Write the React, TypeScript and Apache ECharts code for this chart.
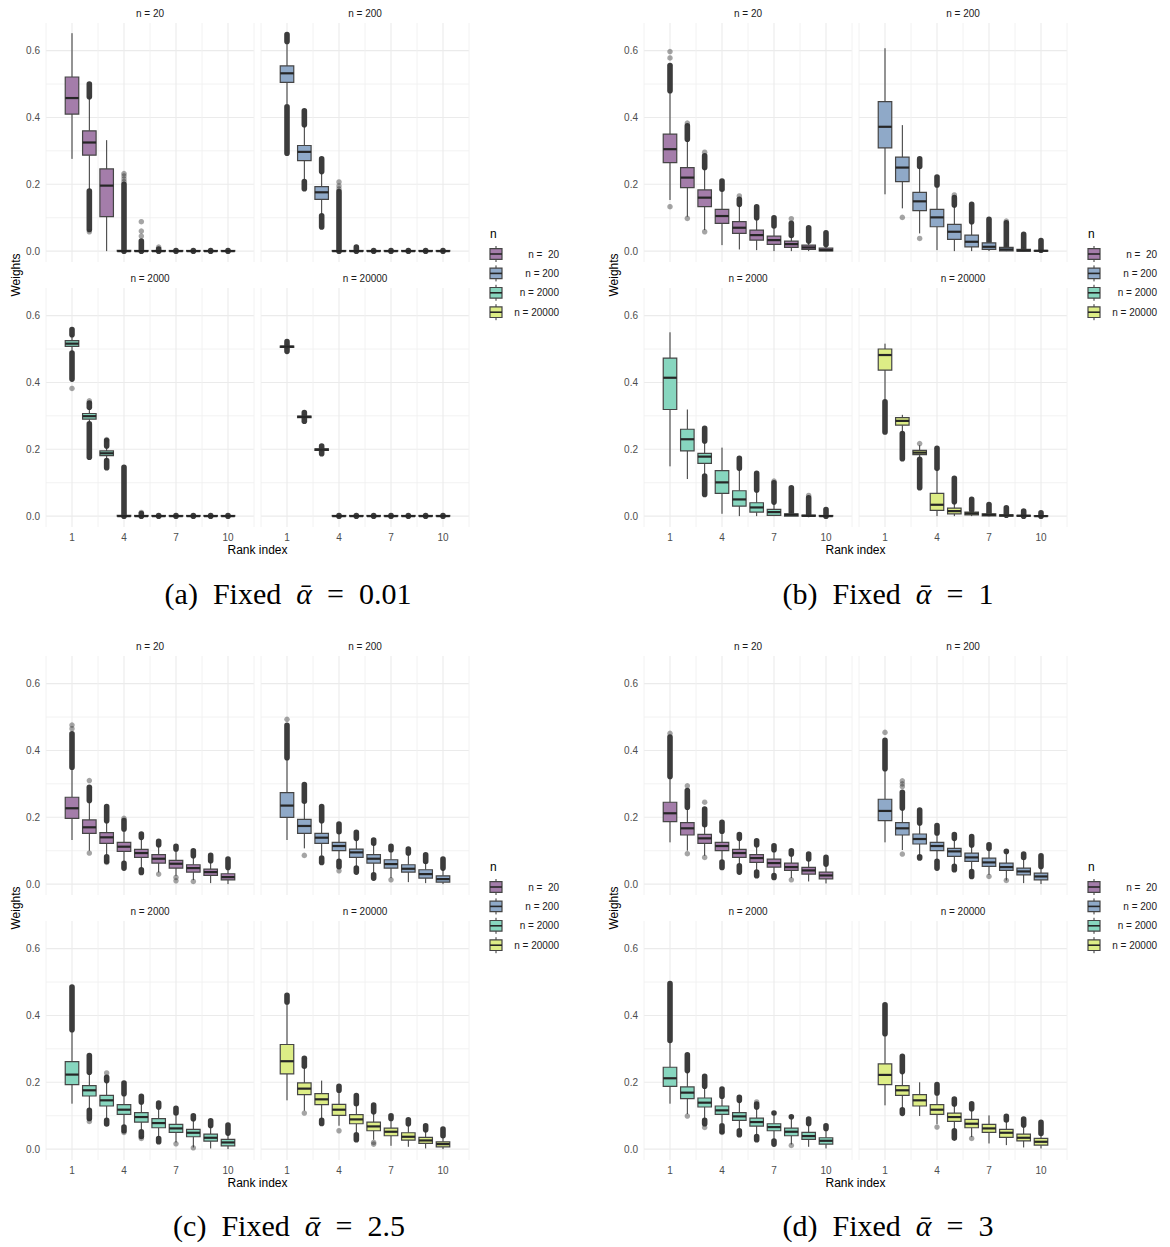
import React, { useEffect, useRef } from 'react';
import * as echarts from 'echarts';

const FONT = "'Liberation Sans', Arial, Helvetica, sans-serif";
const SERIF = "'Liberation Serif', 'DejaVu Serif', serif";

const RANKS = [1, 2, 3, 4, 5, 6, 7, 8, 9, 10];
const FACET_TITLES = ['n = 20', 'n = 200', 'n = 2000', 'n = 20000'];
const LEGEND_LABELS = ['n =  20', 'n = 200', 'n = 2000', 'n = 20000'];
const FILL_COLORS = ['#A47DAA', '#8FA9C8', '#87D6BF', '#DDED86'];
const CAPTION_PREFIX = ['(a)\u2002Fixed\u2002', '(b)\u2002Fixed\u2002', '(c)\u2002Fixed\u2002', '(d)\u2002Fixed\u2002'];
const CAPTION_VALUE = ['0.01', '1', '2.5', '3'];
const Y_MAJOR = [0, 0.2, 0.4, 0.6];
const Y_MINOR = [0.1, 0.3, 0.5];
const X_MAJOR = [1, 4, 7, 10];
const X_MINOR = [-0.5, 2.5, 5.5, 8.5, 11.5];
const Y_MIN = -0.0325;
const Y_MAX = 0.6825;
const X_MIN = -0.5;
const X_MAX = 11.5;

// ---------- (a) alpha = 0.01 : [lower whisker, Q1, median, Q3, upper whisker] ----------
const A_N20_BOX = [
  [0.276, 0.410, 0.458, 0.521, 0.652],
  [0.185, 0.287, 0.325, 0.360, 0.462],
  [0.000, 0.103, 0.196, 0.246, 0.332],
  [0, 0, 0, 0.002, 0.002],
  [0, 0, 0, 0.002, 0.002],
  [0, 0, 0, 0.002, 0.002],
  [0, 0, 0, 0.002, 0.002],
  [0, 0, 0, 0.002, 0.002],
  [0, 0, 0, 0.002, 0.002],
  [0, 0, 0, 0.002, 0.002],
];
const A_N20_DENSE = [[2, 0.462, 0.500], [2, 0.065, 0.180], [4, 0, 0.200], [5, 0, 0.030], [6, 0, 0.006], [7, 0, 0.002], [8, 0, 0.002], [9, 0, 0.002], [10, 0, 0.002]];
const A_N20_PTS = [[2, 0.058], [4, 0.208], [4, 0.216], [4, 0.225], [4, 0.232], [5, 0.045], [5, 0.060], [5, 0.088], [6, 0.012]];

const A_N200_BOX = [
  [0.440, 0.505, 0.532, 0.554, 0.620],
  [0.215, 0.271, 0.297, 0.316, 0.375],
  [0.110, 0.155, 0.176, 0.193, 0.236],
  [0, 0, 0, 0.002, 0.002],
  [0, 0, 0, 0.002, 0.002],
  [0, 0, 0, 0.002, 0.002],
  [0, 0, 0, 0.002, 0.002],
  [0, 0, 0, 0.002, 0.002],
  [0, 0, 0, 0.002, 0.002],
  [0, 0, 0, 0.002, 0.002],
];
const A_N200_DENSE = [[1, 0.627, 0.648], [1, 0.293, 0.432], [2, 0.378, 0.420], [2, 0.187, 0.208], [3, 0.238, 0.276], [3, 0.072, 0.106], [4, 0, 0.178], [5, 0, 0.012], [6, 0, 0.002], [7, 0, 0.002], [8, 0, 0.002], [9, 0, 0.002], [10, 0, 0.002]];
const A_N200_PTS = [[4, 0.186], [4, 0.195], [4, 0.207]];

const A_N2000_BOX = [
  [0.490, 0.508, 0.516, 0.525, 0.542],
  [0.278, 0.290, 0.299, 0.307, 0.322],
  [0.168, 0.181, 0.188, 0.195, 0.208],
  [0, 0, 0, 0.002, 0.002],
  [0, 0, 0, 0.002, 0.002],
  [0, 0, 0, 0.002, 0.002],
  [0, 0, 0, 0.002, 0.002],
  [0, 0, 0, 0.002, 0.002],
  [0, 0, 0, 0.002, 0.002],
  [0, 0, 0, 0.002, 0.002],
];
const A_N2000_DENSE = [[1, 0.543, 0.558], [1, 0.410, 0.488], [2, 0.326, 0.338], [2, 0.176, 0.276], [3, 0.210, 0.226], [3, 0.145, 0.166], [4, 0, 0.146], [5, 0, 0.008], [6, 0, 0.002], [7, 0, 0.002], [8, 0, 0.002], [9, 0, 0.002], [10, 0, 0.002]];
const A_N2000_PTS = [[1, 0.382], [2, 0.345], [3, 0.229], [5, 0.011]];

const A_N20000_BOX = [
  [0.500, 0.505, 0.507, 0.509, 0.514],
  [0.290, 0.295, 0.297, 0.299, 0.304],
  [0.193, 0.197, 0.199, 0.201, 0.205],
  [0, 0, 0, 0.002, 0.002],
  [0, 0, 0, 0.002, 0.002],
  [0, 0, 0, 0.002, 0.002],
  [0, 0, 0, 0.002, 0.002],
  [0, 0, 0, 0.002, 0.002],
  [0, 0, 0, 0.002, 0.002],
  [0, 0, 0, 0.002, 0.002],
];
const A_N20000_DENSE = [[1, 0.493, 0.522], [2, 0.284, 0.310], [3, 0.187, 0.210], [4, 0, 0.002], [5, 0, 0.002], [6, 0, 0.002], [7, 0, 0.002], [8, 0, 0.002], [9, 0, 0.002], [10, 0, 0.002]];
const A_N20000_PTS: number[][] = [];

// ---------- (b) alpha = 1 ----------
const B_N20_BOX = [
  [0.153, 0.265, 0.305, 0.350, 0.477],
  [0.103, 0.190, 0.220, 0.250, 0.332],
  [0.063, 0.133, 0.160, 0.183, 0.248],
  [0.018, 0.083, 0.105, 0.125, 0.183],
  [0.005, 0.053, 0.070, 0.088, 0.138],
  [0.003, 0.033, 0.048, 0.063, 0.098],
  [0.000, 0.020, 0.033, 0.045, 0.073],
  [0.000, 0.011, 0.021, 0.030, 0.045],
  [0.000, 0.005, 0.011, 0.018, 0.028],
  [0.000, 0.001, 0.003, 0.009, 0.018],
];
const B_N20_DENSE = [[1, 0.480, 0.555], [2, 0.335, 0.375], [3, 0.250, 0.285], [4, 0.185, 0.210], [5, 0.140, 0.155], [6, 0.100, 0.133], [7, 0.075, 0.100], [8, 0.047, 0.083], [9, 0.030, 0.070], [10, 0.020, 0.055]];
const B_N20_PTS = [[1, 0.133], [1, 0.578], [1, 0.597], [2, 0.098], [2, 0.383], [3, 0.058], [3, 0.296], [5, 0.165], [8, 0.097]];

const B_N200_BOX = [
  [0.170, 0.309, 0.372, 0.447, 0.607],
  [0.128, 0.208, 0.250, 0.281, 0.377],
  [0.053, 0.121, 0.149, 0.176, 0.250],
  [0.003, 0.073, 0.101, 0.125, 0.195],
  [0.000, 0.035, 0.058, 0.080, 0.135],
  [0.000, 0.013, 0.028, 0.048, 0.085],
  [0.000, 0.005, 0.013, 0.025, 0.055],
  [0.000, 0.001, 0.005, 0.011, 0.025],
  [0.000, 0.000, 0.002, 0.005, 0.012],
  [0.000, 0.000, 0.001, 0.002, 0.004],
];
const B_N200_DENSE = [[3, 0.253, 0.276], [4, 0.198, 0.222], [5, 0.138, 0.160], [6, 0.088, 0.140], [7, 0.028, 0.095], [8, 0.013, 0.085], [9, 0.008, 0.050], [10, 0.003, 0.032]];
const B_N200_PTS = [[2, 0.101], [3, 0.038], [5, 0.168], [8, 0.090]];

const B_N2000_BOX = [
  [0.149, 0.319, 0.414, 0.473, 0.550],
  [0.111, 0.195, 0.230, 0.260, 0.319],
  [0.124, 0.158, 0.178, 0.188, 0.222],
  [0.007, 0.068, 0.101, 0.136, 0.205],
  [0.000, 0.030, 0.050, 0.076, 0.140],
  [0.000, 0.012, 0.026, 0.040, 0.075],
  [0.000, 0.002, 0.012, 0.020, 0.040],
  [0.000, 0.000, 0.004, 0.007, 0.017],
  [0.000, 0.000, 0.001, 0.003, 0.007],
  [0.000, 0.000, 0.000, 0.002, 0.004],
];
const B_N2000_DENSE = [[3, 0.225, 0.263], [3, 0.065, 0.120], [5, 0.143, 0.173], [6, 0.078, 0.128], [7, 0.042, 0.100], [8, 0.010, 0.085], [9, 0.005, 0.055], [10, 0, 0.020]];
const B_N2000_PTS = [[7, 0.105], [9, 0.062]];

const B_N20000_BOX = [
  [0.345, 0.437, 0.482, 0.500, 0.516],
  [0.250, 0.272, 0.285, 0.295, 0.303],
  [0.173, 0.184, 0.190, 0.197, 0.212],
  [0.000, 0.017, 0.034, 0.068, 0.140],
  [0.000, 0.007, 0.015, 0.024, 0.040],
  [0.000, 0.004, 0.008, 0.012, 0.016],
  [0.000, 0.001, 0.004, 0.007, 0.009],
  [0.000, 0.000, 0.002, 0.004, 0.006],
  [0.000, 0.000, 0.001, 0.002, 0.003],
  [0.000, 0.000, 0.000, 0.001, 0.002],
];
const B_N20000_DENSE = [[1, 0.252, 0.342], [2, 0.172, 0.247], [3, 0.085, 0.170], [4, 0.143, 0.203], [5, 0.043, 0.113], [6, 0.018, 0.050], [7, 0.008, 0.035], [8, 0.003, 0.025], [9, 0, 0.015], [10, 0, 0.010]];
const B_N20000_PTS = [[3, 0.217]];

// ---------- (c) alpha = 2.5 ----------
const C_N20_BOX = [
  [0.132, 0.197, 0.227, 0.260, 0.345],
  [0.100, 0.152, 0.170, 0.192, 0.245],
  [0.088, 0.122, 0.140, 0.154, 0.185],
  [0.066, 0.098, 0.112, 0.125, 0.160],
  [0.047, 0.080, 0.093, 0.104, 0.135],
  [0.035, 0.063, 0.076, 0.088, 0.115],
  [0.025, 0.048, 0.061, 0.071, 0.100],
  [0.012, 0.036, 0.048, 0.058, 0.082],
  [0.003, 0.026, 0.036, 0.045, 0.066],
  [0.000, 0.013, 0.021, 0.031, 0.046],
];
const C_N20_DENSE = [[1, 0.350, 0.450], [2, 0.250, 0.290], [3, 0.190, 0.232], [3, 0.068, 0.082], [4, 0.165, 0.190], [4, 0.048, 0.062], [5, 0.140, 0.150], [5, 0.035, 0.043], [6, 0.118, 0.128], [7, 0.105, 0.113], [8, 0.085, 0.100], [9, 0.070, 0.086], [10, 0.050, 0.075]];
const C_N20_PTS = [[1, 0.465], [1, 0.476], [2, 0.093], [2, 0.310], [3, 0.065], [4, 0.197], [6, 0.030], [7, 0.020], [7, 0.010], [8, 0.008]];

const C_N200_BOX = [
  [0.132, 0.200, 0.235, 0.274, 0.375],
  [0.107, 0.152, 0.174, 0.194, 0.243],
  [0.085, 0.122, 0.139, 0.152, 0.185],
  [0.072, 0.100, 0.114, 0.125, 0.155],
  [0.052, 0.080, 0.095, 0.105, 0.133],
  [0.033, 0.063, 0.076, 0.088, 0.120],
  [0.018, 0.048, 0.060, 0.073, 0.100],
  [0.006, 0.036, 0.046, 0.058, 0.090],
  [0.003, 0.018, 0.030, 0.043, 0.065],
  [0.000, 0.006, 0.015, 0.025, 0.045],
];
const C_N200_DENSE = [[1, 0.378, 0.475], [2, 0.248, 0.298], [3, 0.190, 0.232], [3, 0.065, 0.078], [4, 0.157, 0.180], [4, 0.052, 0.068], [5, 0.137, 0.155], [5, 0.036, 0.048], [6, 0.122, 0.132], [6, 0.018, 0.028], [7, 0.103, 0.113], [8, 0.093, 0.105], [9, 0.068, 0.088], [10, 0.048, 0.075]];
const C_N200_PTS = [[1, 0.493], [2, 0.086], [4, 0.040], [7, 0.013]];

const C_N2000_BOX = [
  [0.136, 0.193, 0.223, 0.262, 0.354],
  [0.120, 0.159, 0.176, 0.190, 0.225],
  [0.090, 0.129, 0.146, 0.161, 0.200],
  [0.070, 0.104, 0.118, 0.133, 0.162],
  [0.056, 0.081, 0.096, 0.109, 0.138],
  [0.036, 0.064, 0.078, 0.091, 0.120],
  [0.020, 0.050, 0.062, 0.074, 0.105],
  [0.005, 0.037, 0.049, 0.059, 0.088],
  [0.002, 0.024, 0.034, 0.045, 0.068],
  [0.000, 0.010, 0.020, 0.029, 0.045],
];
const C_N2000_DENSE = [[1, 0.357, 0.485], [2, 0.230, 0.280], [2, 0.092, 0.116], [3, 0.205, 0.215], [3, 0.075, 0.086], [4, 0.166, 0.198], [4, 0.055, 0.066], [5, 0.141, 0.158], [5, 0.038, 0.052], [6, 0.126, 0.138], [6, 0.022, 0.032], [7, 0.108, 0.122], [8, 0.091, 0.100], [9, 0.071, 0.085], [10, 0.048, 0.072]];
const C_N2000_PTS = [[2, 0.083], [3, 0.228], [4, 0.050], [5, 0.032], [7, 0.016], [8, 0.004]];

const C_N20000_BOX = [
  [0.146, 0.225, 0.263, 0.313, 0.435],
  [0.115, 0.163, 0.181, 0.198, 0.245],
  [0.090, 0.133, 0.149, 0.166, 0.205],
  [0.070, 0.101, 0.118, 0.134, 0.172],
  [0.050, 0.076, 0.089, 0.103, 0.133],
  [0.028, 0.055, 0.068, 0.081, 0.108],
  [0.010, 0.040, 0.052, 0.063, 0.088],
  [0.007, 0.027, 0.037, 0.049, 0.072],
  [0.002, 0.017, 0.026, 0.035, 0.055],
  [0.000, 0.007, 0.015, 0.022, 0.035],
];
const C_N20000_DENSE = [[1, 0.440, 0.460], [2, 0.248, 0.272], [3, 0.077, 0.086], [4, 0.176, 0.188], [5, 0.136, 0.160], [5, 0.028, 0.043], [6, 0.112, 0.132], [7, 0.092, 0.100], [8, 0.076, 0.088], [9, 0.058, 0.070], [10, 0.040, 0.060]];
const C_N20000_PTS = [[2, 0.108], [4, 0.055], [6, 0.020], [6, 0.015]];

// ---------- (d) alpha = 3 ----------
const D_N20_BOX = [
  [0.125, 0.187, 0.212, 0.245, 0.320],
  [0.100, 0.147, 0.167, 0.184, 0.225],
  [0.085, 0.122, 0.137, 0.149, 0.175],
  [0.070, 0.100, 0.114, 0.125, 0.155],
  [0.060, 0.080, 0.093, 0.104, 0.132],
  [0.042, 0.065, 0.078, 0.088, 0.112],
  [0.030, 0.051, 0.063, 0.075, 0.100],
  [0.018, 0.041, 0.051, 0.063, 0.085],
  [0.008, 0.030, 0.041, 0.050, 0.070],
  [0.002, 0.016, 0.026, 0.036, 0.055],
];
const D_N20_DENSE = [[1, 0.322, 0.440], [2, 0.230, 0.280], [3, 0.178, 0.225], [4, 0.158, 0.185], [4, 0.050, 0.066], [5, 0.137, 0.148], [5, 0.036, 0.055], [6, 0.118, 0.130], [6, 0.025, 0.036], [7, 0.103, 0.115], [7, 0.020, 0.026], [8, 0.090, 0.100], [9, 0.075, 0.090], [10, 0.060, 0.080]];
const D_N20_PTS = [[1, 0.451], [2, 0.091], [2, 0.294], [3, 0.080], [3, 0.245], [8, 0.013]];

const D_N200_BOX = [
  [0.125, 0.190, 0.219, 0.254, 0.343],
  [0.102, 0.147, 0.167, 0.184, 0.225],
  [0.085, 0.120, 0.135, 0.150, 0.180],
  [0.070, 0.100, 0.114, 0.125, 0.150],
  [0.058, 0.083, 0.098, 0.107, 0.135],
  [0.042, 0.068, 0.080, 0.093, 0.115],
  [0.028, 0.053, 0.065, 0.078, 0.104],
  [0.011, 0.041, 0.051, 0.063, 0.090],
  [0.003, 0.028, 0.038, 0.048, 0.075],
  [0.000, 0.013, 0.023, 0.033, 0.050],
];
const D_N200_DENSE = [[1, 0.345, 0.430], [2, 0.228, 0.275], [3, 0.183, 0.222], [3, 0.078, 0.082], [4, 0.153, 0.175], [4, 0.048, 0.068], [5, 0.137, 0.148], [5, 0.043, 0.053], [6, 0.117, 0.142], [6, 0.023, 0.038], [7, 0.107, 0.118], [8, 0.098, 0.098], [9, 0.080, 0.090], [10, 0.053, 0.085]];
const D_N200_PTS = [[1, 0.454], [2, 0.090], [2, 0.292], [2, 0.300], [2, 0.309], [7, 0.023], [8, 0.011]];

const D_N2000_BOX = [
  [0.136, 0.188, 0.212, 0.245, 0.322],
  [0.105, 0.151, 0.169, 0.186, 0.232],
  [0.088, 0.126, 0.139, 0.153, 0.185],
  [0.078, 0.104, 0.116, 0.129, 0.155],
  [0.060, 0.086, 0.098, 0.109, 0.143],
  [0.042, 0.069, 0.081, 0.093, 0.123],
  [0.027, 0.055, 0.066, 0.076, 0.105],
  [0.014, 0.040, 0.052, 0.063, 0.090],
  [0.007, 0.029, 0.039, 0.050, 0.072],
  [0.002, 0.015, 0.025, 0.034, 0.058],
];
const D_N2000_DENSE = [[1, 0.325, 0.495], [2, 0.235, 0.282], [3, 0.188, 0.218], [3, 0.076, 0.086], [4, 0.158, 0.180], [4, 0.052, 0.070], [5, 0.146, 0.155], [5, 0.043, 0.055], [6, 0.126, 0.135], [6, 0.028, 0.038], [7, 0.108, 0.108], [7, 0.015, 0.024], [8, 0.097, 0.097], [9, 0.077, 0.090], [10, 0.062, 0.070]];
const D_N2000_PTS = [[2, 0.099], [3, 0.065], [4, 0.050], [6, 0.141], [8, 0.011]];

const D_N20000_BOX = [
  [0.131, 0.193, 0.222, 0.255, 0.342],
  [0.122, 0.161, 0.176, 0.190, 0.228],
  [0.099, 0.129, 0.146, 0.163, 0.200],
  [0.075, 0.104, 0.118, 0.133, 0.163],
  [0.060, 0.083, 0.096, 0.108, 0.133],
  [0.036, 0.064, 0.076, 0.089, 0.118],
  [0.017, 0.050, 0.062, 0.074, 0.101],
  [0.012, 0.035, 0.049, 0.059, 0.083],
  [0.005, 0.025, 0.034, 0.045, 0.068],
  [0.002, 0.012, 0.022, 0.032, 0.045],
];
const D_N20000_DENSE = [[1, 0.345, 0.432], [2, 0.232, 0.278], [2, 0.107, 0.118], [4, 0.168, 0.193], [5, 0.135, 0.150], [5, 0.033, 0.055], [6, 0.121, 0.136], [8, 0.087, 0.098], [9, 0.072, 0.090], [10, 0.047, 0.080]];
const D_N20000_PTS = [[4, 0.066], [6, 0.032]];

// ---------- layout ----------
const PANEL_OFFSETS = [[0, 0], [598, 0], [0, 633], [598, 633]];
const FACET_POS = [[46, 23], [261, 23], [46, 288], [261, 288]];
const FACET_W = 208;
const FACET_H = 239;
const BOX_WIDTH = 0.78;

const PANEL_BOXES = [
  [A_N20_BOX, A_N200_BOX, A_N2000_BOX, A_N20000_BOX],
  [B_N20_BOX, B_N200_BOX, B_N2000_BOX, B_N20000_BOX],
  [C_N20_BOX, C_N200_BOX, C_N2000_BOX, C_N20000_BOX],
  [D_N20_BOX, D_N200_BOX, D_N2000_BOX, D_N20000_BOX],
];
const PANEL_DENSE = [
  [A_N20_DENSE, A_N200_DENSE, A_N2000_DENSE, A_N20000_DENSE],
  [B_N20_DENSE, B_N200_DENSE, B_N2000_DENSE, B_N20000_DENSE],
  [C_N20_DENSE, C_N200_DENSE, C_N2000_DENSE, C_N20000_DENSE],
  [D_N20_DENSE, D_N200_DENSE, D_N2000_DENSE, D_N20000_DENSE],
];
const PANEL_PTS = [
  [A_N20_PTS, A_N200_PTS, A_N2000_PTS, A_N20000_PTS],
  [B_N20_PTS, B_N200_PTS, B_N2000_PTS, B_N20000_PTS],
  [C_N20_PTS, C_N200_PTS, C_N2000_PTS, C_N20000_PTS],
  [D_N20_PTS, D_N200_PTS, D_N2000_PTS, D_N20000_PTS],
];

function matchTick(v: number, list: number[]) {
  return list.find((t) => Math.abs(t - v) < 1e-6);
}

function buildOption() {
  const grid: any[] = [];
  const xAxis: any[] = [];
  const yAxis: any[] = [];
  const series: any[] = [];
  const graphic: any[] = [];

  const gridLineData = [
    ...Y_MAJOR.map((v) => [0, v, 1]),
    ...Y_MINOR.map((v) => [0, v, 0]),
    ...X_MAJOR.map((v) => [1, v, 1]),
    ...X_MINOR.map((v) => [1, v, 0]),
  ];

  PANEL_OFFSETS.forEach(([dx, dy], p) => {
    FACET_POS.forEach(([fx, fy], f) => {
      const gi = p * 4 + f;
      const isBottom = f >= 2;
      const isLeft = f % 2 === 0;
      const color = FILL_COLORS[f];
      grid.push({ left: dx + fx, top: dy + fy, width: FACET_W, height: FACET_H, containLabel: false });
      xAxis.push({
        type: 'value', gridIndex: gi, min: X_MIN, max: X_MAX,
        axisLine: { show: false }, axisTick: { show: false }, splitLine: { show: false },
        axisLabel: {
          show: isBottom, customValues: X_MAJOR, margin: 5,
          color: '#4D4D4D', fontSize: 10, fontFamily: FONT,
          formatter: (v: number) => { const m = matchTick(v, X_MAJOR); return m === undefined ? '' : String(m); },
        },
      });
      yAxis.push({
        type: 'value', gridIndex: gi, min: Y_MIN, max: Y_MAX,
        axisLine: { show: false }, axisTick: { show: false }, splitLine: { show: false },
        axisLabel: {
          show: isLeft, customValues: Y_MAJOR, margin: 6,
          color: '#4D4D4D', fontSize: 10, fontFamily: FONT,
          formatter: (v: number) => { const m = matchTick(v, Y_MAJOR); return m === undefined ? '' : m.toFixed(1); },
        },
      });

      series.push({
        type: 'custom', xAxisIndex: gi, yAxisIndex: gi, z: 0, silent: true,
        data: gridLineData,
        renderItem: (params: any, api: any) => {
          const kind = api.value(0);
          const v = api.value(1);
          const major = api.value(2) === 1;
          const p1 = kind === 0 ? api.coord([X_MIN, v]) : api.coord([v, Y_MIN]);
          const p2 = kind === 0 ? api.coord([X_MAX, v]) : api.coord([v, Y_MAX]);
          return {
            type: 'line',
            shape: { x1: p1[0], y1: p1[1], x2: p2[0], y2: p2[1] },
            style: { stroke: major ? '#EBEBEB' : '#F1F1F1', lineWidth: major ? 1.1 : 0.9 },
          };
        },
      });

      series.push({
        type: 'custom', xAxisIndex: gi, yAxisIndex: gi, z: 1, silent: true,
        data: PANEL_DENSE[p][f],
        renderItem: (params: any, api: any) => {
          const x = api.value(0);
          const pLo = api.coord([x, api.value(1)]);
          const pHi = api.coord([x, api.value(2)]);
          const r = 2.8;
          return {
            type: 'rect',
            shape: { x: pLo[0] - r, y: pHi[1] - r, width: 2 * r, height: pLo[1] - pHi[1] + 2 * r, r },
            style: { fill: '#2B2B2B', opacity: 0.92 },
          };
        },
      });

      series.push({
        type: 'scatter', xAxisIndex: gi, yAxisIndex: gi, z: 1, silent: true,
        symbol: 'circle', symbolSize: 5.5,
        itemStyle: { color: 'rgba(51,51,51,0.55)' },
        data: PANEL_PTS[p][f],
      });

      series.push({
        type: 'custom', xAxisIndex: gi, yAxisIndex: gi, z: 2, silent: true,
        data: PANEL_BOXES[p][f].map((row, i) => [RANKS[i], ...row]),
        renderItem: (params: any, api: any) => {
          const x = api.value(0);
          const pLo = api.coord([x, api.value(1)]);
          const pQ1 = api.coord([x, api.value(2)]);
          const pMed = api.coord([x, api.value(3)]);
          const pQ3 = api.coord([x, api.value(4)]);
          const pHi = api.coord([x, api.value(5)]);
          const w = api.size([BOX_WIDTH, 0])[0];
          const cx = pMed[0];
          return {
            type: 'group',
            children: [
              { type: 'line', shape: { x1: cx, y1: pLo[1], x2: cx, y2: pQ1[1] }, style: { stroke: '#333333', lineWidth: 1 } },
              { type: 'line', shape: { x1: cx, y1: pQ3[1], x2: cx, y2: pHi[1] }, style: { stroke: '#333333', lineWidth: 1 } },
              { type: 'rect', shape: { x: cx - w / 2, y: pQ3[1], width: w, height: pQ1[1] - pQ3[1] }, style: { fill: color, stroke: '#454545', lineWidth: 1.2 } },
              { type: 'line', shape: { x1: cx - w / 2, y1: pMed[1], x2: cx + w / 2, y2: pMed[1] }, style: { stroke: '#262626', lineWidth: 2.2 } },
            ],
          };
        },
      });

      graphic.push({
        type: 'text', x: dx + fx + FACET_W / 2, y: dy + fy - 10,
        style: { text: FACET_TITLES[f], fontSize: 10, fontFamily: FONT, fill: '#1A1A1A', textAlign: 'center', textVerticalAlign: 'middle' },
      });
    });

    // axis titles
    graphic.push({
      type: 'text', x: dx + 16, y: dy + 275, rotation: Math.PI / 2,
      style: { text: 'Weights', fontSize: 12, fontFamily: FONT, fill: '#000000', textAlign: 'center', textVerticalAlign: 'middle' },
    });
    graphic.push({
      type: 'text', x: dx + 257.5, y: dy + 550,
      style: { text: 'Rank index', fontSize: 12, fontFamily: FONT, fill: '#000000', textAlign: 'center', textVerticalAlign: 'middle' },
    });

    // legend
    graphic.push({
      type: 'text', x: dx + 490, y: dy + 234,
      style: { text: 'n', fontSize: 12, fontFamily: FONT, fill: '#000000', textAlign: 'left', textVerticalAlign: 'middle' },
    });
    FACET_TITLES.forEach((_, k) => {
      const cy = dy + 254 + k * 19.4;
      const kx = dx + 490;
      graphic.push({ type: 'line', shape: { x1: kx + 6, y1: cy - 8, x2: kx + 6, y2: cy + 8 }, style: { stroke: '#333333', lineWidth: 1 } });
      graphic.push({ type: 'rect', shape: { x: kx, y: cy - 5.3, width: 12, height: 10.6 }, style: { fill: FILL_COLORS[k], stroke: '#454545', lineWidth: 1.2 } });
      graphic.push({ type: 'line', shape: { x1: kx, y1: cy, x2: kx + 12, y2: cy }, style: { stroke: '#262626', lineWidth: 1.6 } });
      graphic.push({
        type: 'text', x: dx + 559, y: cy,
        style: { text: LEGEND_LABELS[k], fontSize: 10, fontFamily: FONT, fill: '#1A1A1A', textAlign: 'right', textVerticalAlign: 'middle' },
      });
    });
  });

  // captions
  const CAPTION_CENTERS = [[288, 593], [888, 593], [289, 1225], [888, 1225]];
  CAPTION_CENTERS.forEach(([cx, cy], p) => {
    graphic.push({
      type: 'text', x: cx, y: cy,
      style: {
        text: CAPTION_PREFIX[p] + '{i|\u1FB1}\u2002=\u2002' + CAPTION_VALUE[p],
        fontSize: 30, fontFamily: SERIF, fill: '#000000', textAlign: 'center', textVerticalAlign: 'middle',
        rich: { i: { fontStyle: 'italic', fontSize: 30, fontFamily: SERIF, fill: '#000000' } },
      },
    });
  });

  return {
    animation: false,
    backgroundColor: '#FFFFFF',
    textStyle: { fontFamily: FONT },
    grid, xAxis, yAxis, series, graphic,
  };
}

export default function App() {
  const ref = useRef<HTMLDivElement>(null);
  useEffect(() => {
    if (!ref.current) return;
    const chart = echarts.init(ref.current, undefined, { renderer: 'svg' });
    chart.setOption(buildOption() as any);
    return () => chart.dispose();
  }, []);
  return (
    <div
      ref={ref}
      style={{ position: 'absolute', left: 0, top: 0, width: 1170, height: 1247, background: '#FFFFFF' }}
    />
  );
}
